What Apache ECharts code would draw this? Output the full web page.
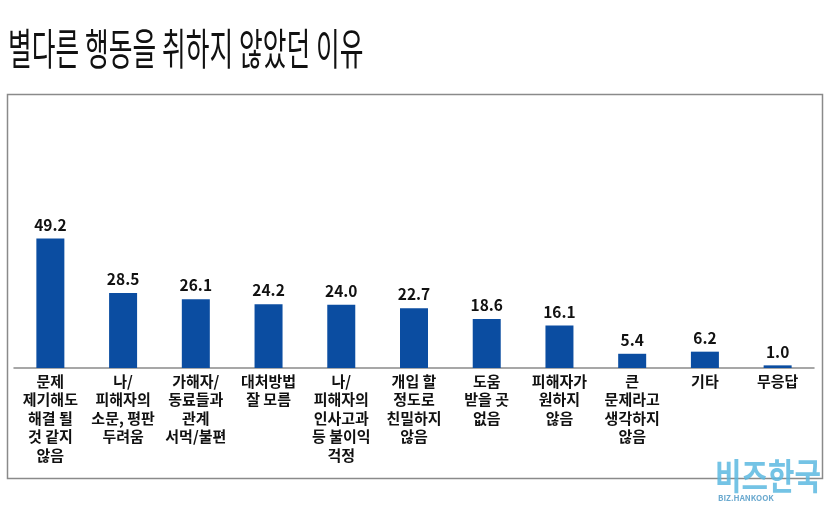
<!DOCTYPE html>
<html><head><meta charset="utf-8">
<script src="https://cdn.jsdelivr.net/npm/echarts@6/dist/echarts.min.js"></script>
<style>html,body{margin:0;padding:0;background:#fff}#c{width:828px;height:505px}</style>
</head><body><div id="c"></div>
<script>
const titleText = '별다른 행동을 취하지 않았던 이유';
const categories = [
  '문제\n제기해도\n해결 될\n것 같지\n않음',
  '나/\n피해자의\n소문, 평판\n두려움',
  '가해자/\n동료들과\n관계\n서먹/불편',
  '대처방법\n잘 모름',
  '나/\n피해자의\n인사고과\n등 불이익\n걱정',
  '개입 할\n정도로\n친밀하지\n않음',
  '도움\n받을 곳\n없음',
  '피해자가\n원하지\n않음',
  '큰\n문제라고\n생각하지\n않음',
  '기타',
  '무응답'
];
const values = [49.2, 28.5, 26.1, 24.2, 24.0, 22.7, 18.6, 16.1, 5.4, 6.2, 1.0];

const chart = echarts.init(document.getElementById('c'), null, {renderer: 'canvas'});
const font = '"Noto Sans CJK KR", "Noto Sans", sans-serif';
chart.setOption({
  animation: false,
  grid: {left: 14, right: 14, top: 210, bottom: 137},
  xAxis: {
    type: 'category', data: categories,
    axisLine: {lineStyle: {color: '#8a8a8a', width: 1.5}},
    axisTick: {show: false},
    axisLabel: {interval: 0, color: '#111', fontFamily: font, fontWeight: 'bold', fontSize: 15, lineHeight: 18.5, margin: 4}
  },
  yAxis: {type: 'value', min: 0, max: 60, show: false, splitLine: {show: false}},
  series: [{
    type: 'bar', data: values, barWidth: 28,
    itemStyle: {color: '#0b4da1'},
    label: {show: true, position: 'top', distance: 6, color: '#111', fontFamily: font, fontWeight: 'bold', fontSize: 15.5,
      formatter: p => p.value.toFixed(1)}
  }],
  graphic: [
    {type: 'rect', left: 5, top: 92, shape: {width: 815, height: 384}, style: {fill: 'none', stroke: '#8a8a8a', lineWidth: 1.5}, z: -1},
    {type: 'text', x: 8, y: 27, scaleX: 0.6, style: {text: titleText, fontFamily: font, fontSize: 43, fill: '#111', textVerticalAlign: 'top'}},
    {type: 'text', x: 715, y: 458, scaleX: 0.8, style: {text: '비즈한국', fontFamily: font, fontSize: 36, fontWeight: 'bold', fill: '#5cb8e0', opacity: 0.85}},
    {type: 'text', x: 718, y: 494, style: {text: 'BIZ.HANKOOK', fontFamily: font, fontSize: 8, fontWeight: 'bold', fill: '#6aa9cf'}}
  ]
});
</script></body></html>
